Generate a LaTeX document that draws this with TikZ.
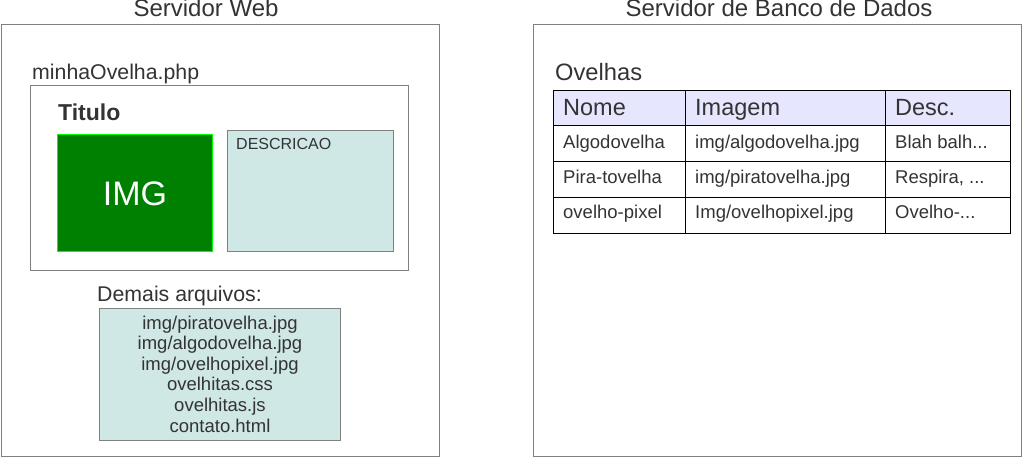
\documentclass[tikz,border=0pt]{standalone}
\usepackage{fontspec}
\setmainfont{Liberation Sans}
\definecolor{txt}{HTML}{333333}
\definecolor{boxline}{HTML}{808080}
\definecolor{lightteal}{HTML}{CFE7E5}
\definecolor{lavender}{HTML}{E6E6FF}
\definecolor{imggreen}{HTML}{008000}
\definecolor{imgborder}{HTML}{00FF00}
\begin{document}
\begin{tikzpicture}[x=1pt,y=-1pt,
    frame/.style={draw=boxline,line width=1pt},
    label/.style={inner sep=0pt,text=txt,anchor=base west},
    title/.style={label,anchor=base,font=\fontsize{24}{28}\selectfont},
    caption/.style={label,font=\fontsize{21.3}{25}\selectfont},
    cell/.style={label,font=\fontsize{18.5}{22}\selectfont},
    head/.style={label,font=\fontsize{23.5}{28}\selectfont}]
  \useasboundingbox (0,0) rectangle (1022,457);

  % servidor web
  \draw[frame] (1,25) rectangle (439,456);
  \node[title] (webtitle) at (206,17) {Servidor Web};
  \node[caption] (php) at (32,80) {minhaOvelha.php};
  \draw[frame] (30.5,85.5) rectangle (408.5,270.5);
  \node[label,font=\bfseries\fontsize{23}{27}\selectfont] (titulo) at (58,120.5) {Titulo};
  \draw[draw=imgborder,fill=imggreen,line width=1pt] (57.5,134.5) rectangle (212.5,251);
  \node[inner sep=0pt,anchor=base,text=white,font=\fontsize{34}{40}\selectfont] (img) at (135,205) {IMG};
  \draw[frame,fill=lightteal] (227.5,130.5) rectangle (393.5,251);
  \node[label,font=\fontsize{16}{19}\selectfont] (desc) at (236,150) {DESCRICAO};

  \node[caption] (demais) at (97,301.5) {Demais arquivos:};
  \draw[frame,fill=lightteal] (99.5,308.5) rectangle (340.5,440);
  \foreach \fname [count=\i from 0] in {img/piratovelha.jpg,img/algodovelha.jpg,
      img/ovelhopixel.jpg,ovelhitas.css,ovelhitas.js,contato.html}
    \node[cell,anchor=base] (file\i) at (220,329+20.6*\i) {\fname};

  % servidor de banco de dados
  \draw[frame] (533.5,25) rectangle (1021,456);
  \node[title] (dbtitle) at (779,17) {Servidor de Banco de Dados};
  \node[label,font=\fontsize{23.7}{28}\selectfont] (ovelhas) at (555,80.5) {Ovelhas};

  \fill[lavender] (553.5,90.5) rectangle (1010,126);
  \draw[line width=1pt] (553.5,90.5) rectangle (1010,233)
    (553.5,126) -- (1010,126) (553.5,162) -- (1010,162) (553.5,197.5) -- (1010,197.5)
    (685.5,90.5) -- (685.5,233) (885.5,90.5) -- (885.5,233);

  \node[head] (hnome) at (563,116) {Nome};
  \node[head] (himagem) at (695,116) {Imagem};
  \node[head] (hdesc) at (895,116) {Desc.};

  \node[cell] (nome1) at (563,148.3) {Algodovelha};
  \node[cell] (imagem1) at (695,148.3) {img/algodovelha.jpg};
  \node[cell] (desc1) at (895,148.3) {Blah balh...};

  \node[cell] (nome2) at (563,183.3) {Pira-tovelha};
  \node[cell] (imagem2) at (695,183.3) {img/piratovelha.jpg};
  \node[cell] (desc2) at (895,183.3) {Respira, ...};

  \node[cell] (nome3) at (563,218.3) {ovelho-pixel};
  \node[cell] (imagem3) at (695,218.3) {Img/ovelhopixel.jpg};
  \node[cell] (desc3) at (895,218.3) {Ovelho-...};
\end{tikzpicture}
\end{document}
